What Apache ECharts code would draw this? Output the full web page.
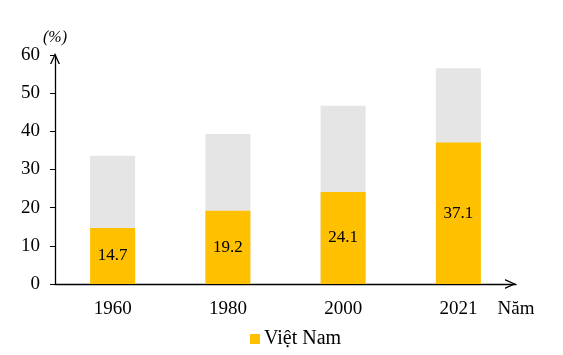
<!DOCTYPE html>
<html><head><meta charset="utf-8">
<script src="https://cdn.jsdelivr.net/npm/echarts@6/dist/echarts.min.js"></script>
<style>html,body{margin:0;padding:0;background:#fff}#c{width:563px;height:355px}</style>
</head><body><div id="c"></div>
<script>
const categories = ['1960', '1980', '2000', '2021'];
const vietNam = [14.7, 19.2, 24.1, 37.1];
const world = [33.6, 39.3, 46.7, 56.5];
const yTicks = [0, 10, 20, 30, 40, 50, 60];

const font = '"Liberation Serif", "Times New Roman", serif';
const chevron = 'path://M0,11 L5,0 L10,11 L8.6,11 L5,2.9 L1.4,11 Z';
const chart = echarts.init(document.getElementById('c'));
chart.setOption({
  animation: false,
  textStyle: { fontFamily: font },
  grid: { left: 55, right: 47, top: 55, bottom: 71, containLabel: false },
  legend: {
    data: ['Việt Nam'], bottom: 1, left: 245,
    icon: 'rect', itemWidth: 10, itemHeight: 10, itemGap: 4,
    textStyle: { fontFamily: font, fontSize: 20, color: '#000', padding: [0, 0, 0, -1] }
  },
  graphic: [{
    type: 'text', left: 43, top: 30,
    style: { text: '(%)', font: 'italic 16px ' + font, fill: '#000' }
  }],
  xAxis: {
    type: 'category', data: categories,
    name: 'Năm', nameLocation: 'end', nameGap: 0,
    nameTextStyle: { fontFamily: font, fontSize: 19, color: '#000', align: 'center', verticalAlign: 'top', padding: [16, 0, 0, 0] },
    axisLine: { lineStyle: { color: '#000', width: 1.3 }, symbol: ['none', chevron], symbolSize: [11, 11], symbolOffset: [0, -5.5] },
    axisTick: { show: false },
    axisLabel: { fontFamily: font, fontSize: 19, color: '#000', margin: 16 }
  },
  yAxis: {
    type: 'value', min: 0, max: 60, interval: 10,
    axisLine: { show: true, lineStyle: { color: '#000', width: 1.3 }, symbol: ['none', chevron], symbolSize: [11, 11], symbolOffset: [0, -3.5] },
    axisTick: { show: true, length: 5, lineStyle: { color: '#000' } },
    splitLine: { show: false },
    axisLabel: { fontFamily: font, fontSize: 19, color: '#000', margin: 15,
      formatter: v => yTicks.includes(v) ? String(v) : '' }
  },
  series: [
    { name: 'Thế giới', type: 'bar', data: world, barWidth: 45, barGap: '-100%',
      itemStyle: { color: '#e5e5e5' }, z: 1 },
    { name: 'Việt Nam', type: 'bar', data: vietNam, barWidth: 45, barGap: '-100%',
      itemStyle: { color: '#ffc000' }, z: 2,
      label: { show: true, position: 'inside', fontFamily: font, fontSize: 17, color: '#000' } }
  ]
});
</script></body></html>
